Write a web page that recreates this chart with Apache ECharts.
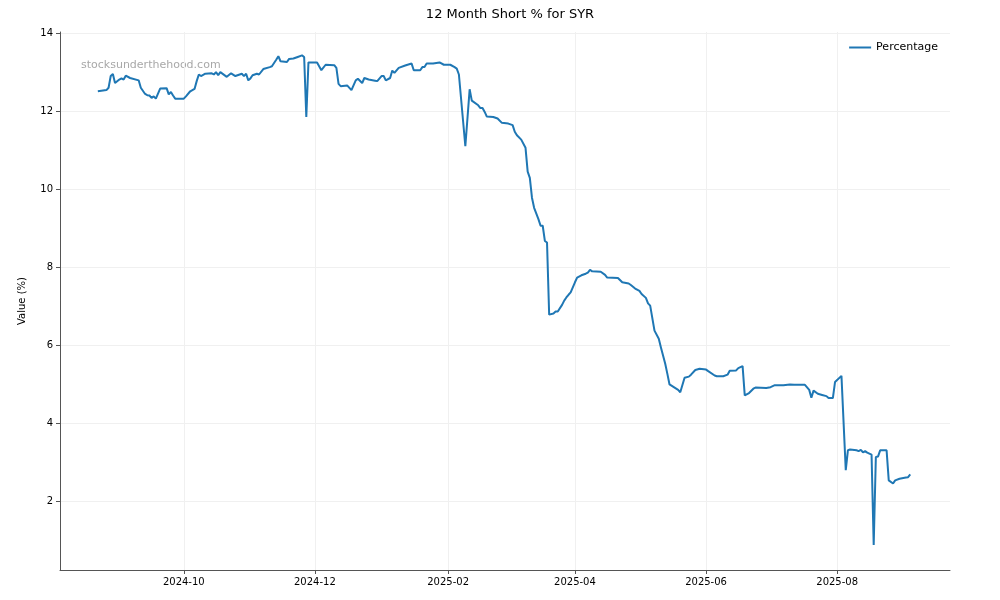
<!DOCTYPE html>
<html>
<head>
<meta charset="utf-8">
<script src="https://cdn.jsdelivr.net/npm/echarts@6/dist/echarts.min.js"></script>
<style>html,body{margin:0;padding:0;background:#fff}#c{width:1000px;height:600px}</style>
</head>
<body>
<div id="c"></div>
<script>
var dates = [
"2024-08-22","2024-08-26","2024-08-27","2024-08-28","2024-08-29","2024-08-30","2024-09-01","2024-09-02","2024-09-03","2024-09-04",
"2024-09-06","2024-09-10","2024-09-11","2024-09-13","2024-09-14","2024-09-15","2024-09-16","2024-09-17","2024-09-18","2024-09-20",
"2024-09-23","2024-09-24","2024-09-25","2024-09-26","2024-09-27","2024-10-01","2024-10-02","2024-10-04","2024-10-06","2024-10-07",
"2024-10-08","2024-10-09","2024-10-11","2024-10-14","2024-10-15","2024-10-16","2024-10-17","2024-10-18","2024-10-21","2024-10-23",
"2024-10-25","2024-10-28","2024-10-29","2024-10-30","2024-10-31","2024-11-01","2024-11-02","2024-11-04","2024-11-05","2024-11-07",
"2024-11-10","2024-11-11","2024-11-13","2024-11-14","2024-11-15","2024-11-18","2024-11-19","2024-11-21","2024-11-23","2024-11-25",
"2024-11-26","2024-11-27","2024-11-28","2024-12-02","2024-12-04","2024-12-06","2024-12-10","2024-12-11","2024-12-12","2024-12-13",
"2024-12-16","2024-12-18","2024-12-20","2024-12-21","2024-12-23","2024-12-24","2024-12-26","2024-12-29","2024-12-30","2025-01-01",
"2025-01-02","2025-01-03","2025-01-05","2025-01-06","2025-01-07","2025-01-09","2025-01-12","2025-01-15","2025-01-16","2025-01-19",
"2025-01-20","2025-01-21","2025-01-22","2025-01-25","2025-01-28","2025-01-30","2025-02-02","2025-02-04","2025-02-05","2025-02-06",
"2025-02-09","2025-02-11","2025-02-12","2025-02-15","2025-02-16","2025-02-17","2025-02-18","2025-02-19","2025-02-22","2025-02-24",
"2025-02-26","2025-03-01","2025-03-03","2025-03-04","2025-03-05","2025-03-07","2025-03-09","2025-03-10","2025-03-11","2025-03-12",
"2025-03-13","2025-03-15","2025-03-16","2025-03-17","2025-03-18","2025-03-19","2025-03-20","2025-03-22","2025-03-23","2025-03-24",
"2025-03-26","2025-03-27","2025-03-28","2025-03-29","2025-03-30","2025-04-01","2025-04-02","2025-04-04","2025-04-06","2025-04-07",
"2025-04-08","2025-04-09","2025-04-13","2025-04-15","2025-04-16","2025-04-21","2025-04-23","2025-04-26","2025-04-27","2025-04-29",
"2025-05-01","2025-05-02","2025-05-04","2025-05-05","2025-05-06","2025-05-08","2025-05-10","2025-05-11","2025-05-13","2025-05-14",
"2025-05-15","2025-05-17","2025-05-19","2025-05-20","2025-05-22","2025-05-24","2025-05-25","2025-05-27","2025-05-29","2025-06-01",
"2025-06-02","2025-06-05","2025-06-06","2025-06-09","2025-06-11","2025-06-12","2025-06-15","2025-06-16","2025-06-18","2025-06-19",
"2025-06-21","2025-06-23","2025-06-24","2025-06-29","2025-07-01","2025-07-03","2025-07-07","2025-07-10","2025-07-12","2025-07-17",
"2025-07-19","2025-07-20","2025-07-21","2025-07-23","2025-07-25","2025-07-27","2025-07-28","2025-07-30","2025-07-31","2025-08-03",
"2025-08-05","2025-08-06","2025-08-07","2025-08-10","2025-08-11","2025-08-12","2025-08-13","2025-08-14","2025-08-15","2025-08-17",
"2025-08-18","2025-08-19","2025-08-20","2025-08-21","2025-08-24","2025-08-25","2025-08-27","2025-08-28","2025-08-30","2025-09-02",
"2025-09-03","2025-09-04"
];
var percentage = [
12.51,12.54,12.60,12.90,12.95,12.72,12.81,12.84,12.81,12.91,
12.85,12.79,12.60,12.44,12.41,12.40,12.34,12.38,12.32,12.58,
12.59,12.43,12.49,12.40,12.32,12.32,12.38,12.51,12.57,12.77,
12.94,12.90,12.96,12.97,12.94,13.00,12.92,13.00,12.88,12.97,
12.90,12.96,12.90,12.96,12.79,12.84,12.92,12.96,12.94,13.08,
13.13,13.15,13.32,13.41,13.28,13.26,13.34,13.35,13.39,13.43,
13.39,11.85,13.25,13.25,13.05,13.19,13.18,13.11,12.70,12.64,
12.66,12.54,12.79,12.83,12.72,12.85,12.81,12.78,12.77,12.90,
12.90,12.79,12.85,13.04,12.98,13.11,13.17,13.22,13.05,13.05,
13.13,13.13,13.22,13.22,13.25,13.19,13.19,13.13,13.09,12.94,
11.10,12.56,12.27,12.15,12.08,12.08,11.98,11.86,11.85,11.81,
11.70,11.68,11.64,11.47,11.38,11.27,11.06,10.45,10.29,9.78,
9.52,9.23,9.06,9.06,8.67,8.63,6.78,6.81,6.86,6.86,
7.03,7.14,7.22,7.29,7.35,7.61,7.73,7.79,7.83,7.86,
7.93,7.89,7.88,7.80,7.73,7.72,7.61,7.58,7.54,7.45,
7.39,7.31,7.21,7.07,7.01,6.37,6.16,5.94,5.52,5.26,
4.99,4.92,4.85,4.79,5.16,5.19,5.24,5.36,5.39,5.37,
5.33,5.22,5.20,5.20,5.24,5.34,5.35,5.41,5.46,4.71,
4.77,4.88,4.91,4.90,4.92,4.97,4.97,4.99,4.98,4.98,
4.85,4.65,4.83,4.75,4.72,4.69,4.64,4.64,5.05,5.21,
2.79,3.30,3.32,3.30,3.28,3.31,3.25,3.28,3.24,3.19,
0.87,3.13,3.14,3.30,3.30,2.53,2.45,2.53,2.57,2.60,
2.61,2.68
];
var xTicks = ["2024-10-01","2024-12-01","2025-02-01","2025-04-01","2025-06-01","2025-08-01"];
var yTicks = [2,4,6,8,10,12,14];

function ts(s){var p=s.split('-');return Date.UTC(+p[0],+p[1]-1,+p[2]);}
var xTickVals = xTicks.map(ts);
var seriesData = dates.map(function(d,i){return [ts(d), percentage[i]];});
var FONT = 'DejaVu Sans';

var chart = echarts.init(document.getElementById('c'), null, {renderer:'canvas'});
chart.setOption({
  animation:false,
  backgroundColor:'#ffffff',
  title:{text:'12 Month Short % for SYR', left:505, textAlign:'center', top:3,
    textStyle:{fontFamily:FONT, fontSize:13, fontWeight:'normal', color:'#000'}},
  legend:{data:['Percentage'], right:57, top:37, icon:'rect', itemWidth:22, itemHeight:2, itemGap:9,
    textStyle:{fontFamily:FONT, fontSize:11, color:'#000'}},
  grid:{left:60, right:50, top:32, bottom:30, containLabel:false},
  graphic:[{type:'text', left:81, top:60, silent:true,
    style:{text:'stocksunderthehood.com', fill:'#a8a8a8', font:'11px "DejaVu Sans"'}}],
  xAxis:{type:'value', min:ts('2024-08-04')+0.4*86400000, max:ts('2025-09-22')+0.5*86400000,
    axisLine:{show:true, onZero:false, lineStyle:{color:'#555', width:1}},
    axisTick:{show:true, customValues:xTickVals, length:4, lineStyle:{color:'#555'}},
    axisLabel:{customValues:xTickVals, fontFamily:FONT, fontSize:10, color:'#000', margin:7,
      formatter:function(v){var d=new Date(v);var m=d.getUTCMonth()+1;return d.getUTCFullYear()+'-'+(m<10?'0'+m:m);}},
    splitLine:{show:true, customValues:xTickVals, lineStyle:{color:'#f0f0f0', width:1}}
  },
  yAxis:{type:'value', min:0.23, max:14.03, name:'Value (%)', nameLocation:'middle', nameGap:33,
    nameTextStyle:{fontFamily:FONT, fontSize:10, color:'#000'},
    axisLine:{show:true, onZero:false, lineStyle:{color:'#555', width:1}},
    axisTick:{show:true, customValues:yTicks, length:4, lineStyle:{color:'#555'}},
    axisLabel:{customValues:yTicks, fontFamily:FONT, fontSize:10, color:'#000', margin:7},
    splitLine:{show:true, customValues:yTicks, lineStyle:{color:'#f0f0f0', width:1}}
  },
  series:[{name:'Percentage', type:'line', data:seriesData, showSymbol:false, symbol:'none',
    lineStyle:{color:'#1f77b4', width:2}, itemStyle:{color:'#1f77b4'}}]
});
</script>
</body>
</html>
